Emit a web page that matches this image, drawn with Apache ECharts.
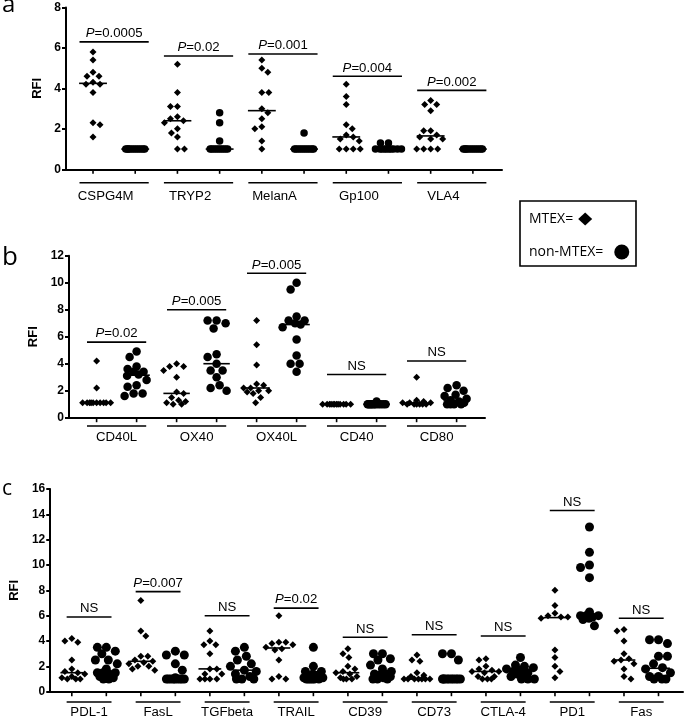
<!DOCTYPE html>
<html>
<head>
<meta charset="utf-8">
<script src="https://cdn.jsdelivr.net/npm/echarts@6/dist/echarts.min.js"></script>
<style>
html,body{margin:0;padding:0;background:#fff;}
#chart{width:685px;height:717px;}
</style>
</head>
<body>
<div id="chart"></div>
<script>
// ---------------- DATA ----------------
const catsA = ['CSPG4M', 'TRYP2', 'MelanA', 'Gp100', 'VLA4'];
const mtexA = [
  [5.8, 5.4, 4.8, 4.6, 4.6, 4.3, 4.2, 4.2, 3.8, 2.3, 2.2, 1.6],
  [5.2, 3.8, 3.1, 3.1, 2.6, 2.5, 2.4, 2.3, 2.0, 1.8, 1.6, 1.0, 1.0],
  [5.4, 5.0, 4.8, 3.8, 3.8, 3.0, 2.8, 2.5, 2.1, 2.0, 1.4, 1.0],
  [4.2, 3.6, 3.2, 2.2, 2.0, 1.7, 1.6, 1.5, 1.4, 1.0, 1.0, 1.0, 1.0],
  [3.4, 3.2, 3.2, 2.9, 1.9, 1.9, 1.7, 1.6, 1.5, 1.5, 1.0, 1.0, 1.0, 1.0]
];
const nonA = [
  [1.0, 1.0, 1.0, 1.0, 1.0, 1.0, 1.0, 1.0, 1.0, 1.0, 1.0, 1.0],
  [2.8, 2.3, 1.4, 1.0, 1.0, 1.0, 1.0, 1.0, 1.0, 1.0, 1.0, 1.0, 1.0],
  [1.8, 1.0, 1.0, 1.0, 1.0, 1.0, 1.0, 1.0, 1.0, 1.0, 1.0, 1.0],
  [1.3, 1.3, 1.0, 1.0, 1.0, 1.0, 1.0, 1.0, 1.0, 1.0, 1.0, 1.0],
  [1.0, 1.0, 1.0, 1.0, 1.0, 1.0, 1.0, 1.0, 1.0, 1.0, 1.0, 1.0]
];
const pBarA = [6.3, 5.6, 5.7, 4.6, 3.9];
const pTextA = ['0.0005', '0.02', '0.001', '0.004', '0.002'];
const yTicksA = [0, 2, 4, 6, 8];

const catsB = ['CD40L', 'OX40', 'OX40L', 'CD40', 'CD80'];
const mtexB = [
  [4.2, 2.2, 1.1, 1.1, 1.1, 1.1, 1.1, 1.1, 1.1, 1.1, 1.1, 1.1],
  [4.0, 3.8, 3.8, 3.5, 3.0, 1.9, 1.8, 1.5, 1.3, 1.2, 1.1, 1.0, 1.0],
  [7.2, 5.4, 3.9, 2.5, 2.4, 2.2, 2.2, 2.0, 2.0, 1.9, 1.8, 1.5, 1.1],
  [1.0, 1.0, 1.0, 1.0, 1.0, 1.0, 1.0, 1.0, 1.0, 1.0, 1.0, 1.0],
  [3.0, 1.3, 1.2, 1.1, 1.1, 1.1, 1.0, 1.0, 1.0, 1.0, 1.0, 1.0]
];
const nonB = [
  [4.9, 4.5, 3.8, 3.6, 3.4, 3.4, 3.2, 3.1, 2.8, 2.4, 2.3, 1.8, 1.8, 1.6],
  [7.2, 7.2, 7.0, 6.6, 4.7, 4.5, 4.0, 3.5, 3.5, 3.0, 2.4, 2.2, 2.0],
  [10.0, 9.5, 7.5, 7.2, 7.2, 7.0, 6.9, 6.7, 5.8, 4.6, 4.0, 4.0, 3.4],
  [1.2, 1.0, 1.0, 1.0, 1.0, 1.0, 1.0, 1.0, 1.0, 1.0, 1.0, 1.0],
  [2.4, 2.2, 2.0, 1.7, 1.6, 1.4, 1.3, 1.2, 1.1, 1.0, 1.0, 1.0, 1.0]
];
const pBarB = [5.6, 8.0, 10.7, 3.2, 4.2];
const pTextB = ['0.02', '0.005', '0.005', 'NS', 'NS'];
const yTicksB = [0, 2, 4, 6, 8, 10, 12];

const catsC = ['PDL-1', 'FasL', 'TGFbeta', 'TRAIL', 'CD39', 'CD73', 'CTLA-4', 'PD1', 'Fas'];
const mtexC = [
  [4.2, 4.0, 3.9, 2.5, 1.8, 1.6, 1.5, 1.4, 1.2, 1.1, 1.0, 1.0, 1.0],
  [7.2, 4.8, 4.4, 2.8, 2.8, 2.5, 2.4, 2.3, 2.2, 2.0, 2.0, 1.8, 1.7],
  [4.8, 4.0, 3.7, 3.7, 3.0, 1.8, 1.8, 1.4, 1.4, 1.0, 1.0, 1.0, 1.0],
  [6.0, 3.9, 3.9, 3.8, 3.7, 3.5, 3.4, 3.3, 2.5, 1.2, 1.0, 1.0],
  [3.4, 3.0, 2.7, 2.0, 1.8, 1.6, 1.5, 1.4, 1.2, 1.1, 1.0, 1.0, 1.0],
  [2.9, 2.5, 2.4, 1.5, 1.3, 1.2, 1.0, 1.0, 1.0, 1.0, 1.0, 1.0, 1.0],
  [2.6, 2.5, 2.0, 1.8, 1.7, 1.6, 1.6, 1.5, 1.2, 1.2, 1.0, 1.0, 1.0],
  [8.0, 6.8, 6.2, 6.0, 5.9, 5.9, 5.8, 3.3, 2.7, 2.0, 1.6, 1.1],
  [4.9, 4.8, 4.0, 3.0, 2.6, 2.5, 2.4, 2.2, 1.8, 1.2, 1.0]
];
const nonC = [
  [3.5, 3.5, 3.2, 3.0, 2.5, 2.5, 2.2, 1.8, 1.5, 1.5, 1.5, 1.4, 1.3, 1.2, 1.1, 1.0, 1.0],
  [3.2, 2.9, 2.9, 2.2, 1.7, 1.1, 1.0, 1.0, 1.0, 1.0, 1.0, 1.0, 1.0, 1.0, 1.0],
  [3.5, 3.2, 2.8, 2.5, 2.2, 2.0, 1.7, 1.6, 1.4, 1.2, 1.0, 1.0, 1.0],
  [3.5, 2.0, 1.6, 1.6, 1.4, 1.3, 1.2, 1.1, 1.1, 1.0, 1.0, 1.0, 1.0, 1.0, 1.0],
  [3.0, 3.0, 2.6, 2.5, 2.1, 1.8, 1.6, 1.4, 1.4, 1.3, 1.2, 1.1, 1.0, 1.0, 1.0],
  [3.0, 3.0, 2.5, 1.0, 1.0, 1.0, 1.0, 1.0, 1.0, 1.0, 1.0, 1.0, 1.0],
  [2.7, 2.1, 2.0, 1.9, 1.8, 1.7, 1.6, 1.5, 1.5, 1.4, 1.2, 1.0, 1.0, 1.0],
  [13.0, 11.0, 10.0, 9.8, 9.0, 6.3, 6.0, 6.0, 6.0, 5.9, 5.8, 5.7, 5.2],
  [4.1, 4.1, 3.8, 2.8, 2.8, 2.2, 1.9, 1.8, 1.5, 1.2, 1.2, 1.0, 1.0, 1.0]
];
const pBarC = [5.9, 7.9, 6.0, 6.6, 4.3, 4.5, 4.4, 14.3, 5.8];
const pTextC = ['NS', '0.007', 'NS', '0.02', 'NS', 'NS', 'NS', 'NS', 'NS'];
const yTicksC = [0, 2, 4, 6, 8, 10, 12, 14, 16];

// ---------------- LAYOUT / STYLE ----------------
const FONT = '"Liberation Sans", Arial, Helvetica, sans-serif';
const SANS = '"Open Sans", "Noto Sans", sans-serif';
const panels = [
  { cats: catsA, mtex: mtexA, non: nonA, pBar: pBarA, pText: pTextA, yTicks: yTicksA,
    grid: { left: 66, top: 7.5, width: 436, height: 161.8 }, xMin: 0.36, xMax: 10.69,
    barHalf: 0.82, lineOff: 13.4, labelOff: 27.5, labelShift: -0.2, dia: 7, cir: 7.5, nameGap: 17 },
  { cats: catsB, mtex: mtexB, non: nonB, pBar: pBarB, pText: pTextB, yTicks: yTicksB,
    grid: { left: 69, top: 255.7, width: 416, height: 162 }, xMin: 0.31, xMax: 10.71,
    barHalf: 0.74, lineOff: 8.3, labelOff: 19.6, labelShift: 0, dia: 7, cir: 8.5, nameGap: 20 },
  { cats: catsC, mtex: mtexC, non: nonC, pBar: pBarC, pText: pTextC, yTicks: yTicksC,
    grid: { left: 46.7, top: 489, width: 636.3, height: 202.7 }, xMin: 0.375, xMax: 18.71,
    barHalf: 0.65, lineOff: 10.3, labelOff: 20.5, labelShift: 0, dia: 7, cir: 9, nameGap: 24 }
];

function median(arr) {
  const s = arr.slice().sort((a, b) => a - b);
  const n = s.length;
  return n % 2 ? s[(n - 1) / 2] : (s[n / 2 - 1] + s[n / 2]) / 2;
}

// deterministic beeswarm: spreads equal / close values sideways
function swarm(values, center, xs, ys, d, maxFree, maxFill) {
  const order = values.map((v, i) => i).sort((a, b) => values[b] - values[a]);
  const placed = [];
  const out = [];
  let flip = 1;
  for (const i of order) {
    const py = values[i] * ys;
    let chosen = null;
    for (let k = 0; k <= maxFree && chosen === null; k += 1) {
      const cands = k === 0 ? [0] : [flip * k, -flip * k];
      for (const ox of cands) {
        if (placed.every(p => Math.hypot(p.ox - ox, p.py - py) >= d)) { chosen = ox; break; }
      }
    }
    if (chosen === null) {
      let best = 0, bestD = -1;
      for (let ox = -maxFill; ox <= maxFill + 1e-9; ox += 0.5) {
        let md = Infinity;
        placed.forEach(p => { md = Math.min(md, Math.hypot(p.ox - ox, p.py - py)); });
        if (md > bestD + 1e-9) { bestD = md; best = ox; }
      }
      chosen = best;
    }
    flip = -flip;
    placed.push({ ox: chosen, py: py });
    out.push([center + chosen / xs, values[i]]);
  }
  return out;
}

const grids = [], xAxes = [], yAxes = [], series = [];

panels.forEach((P, k) => {
  const n = P.cats.length;
  const yMax = P.yTicks[P.yTicks.length - 1];
  const xs = P.grid.width / (P.xMax - P.xMin);
  const ys = P.grid.height / yMax;
  grids.push(P.grid);
  xAxes.push({
    gridIndex: k, type: 'value', min: P.xMin, max: P.xMax,
    axisLine: { show: true, onZero: false, lineStyle: { color: '#000', width: 2 } },
    axisTick: { show: false },
    axisLabel: { show: false }, splitLine: { show: false }
  });
  yAxes.push({
    gridIndex: k, type: 'value', min: P.yTicks[0], max: yMax,
    interval: P.yTicks[1] - P.yTicks[0],
    name: 'RFI', nameLocation: 'middle', nameRotate: 90, nameGap: P.nameGap,
    nameTextStyle: { fontFamily: FONT, fontWeight: 'bold', fontSize: 13, color: '#000' },
    axisLine: { show: true, lineStyle: { color: '#000', width: 2 } },
    axisTick: { show: true, length: 4, lineStyle: { color: '#000', width: 2 } },
    axisLabel: { fontFamily: FONT, fontWeight: 'bold', fontSize: 12, color: '#000', margin: 5 },
    splitLine: { show: false }
  });

  const mData = [], nData = [], medData = [];
  P.mtex.forEach((vals, i) => {
    swarm(vals, 2 * i + 1, xs, ys, P.dia, 14, 9.5).forEach(p => mData.push(p));
    medData.push([2 * i + 1, median(vals)]);
  });
  P.non.forEach((vals, i) => {
    swarm(vals, 2 * i + 2, xs, ys, P.cir, 14, 9.5).forEach(p => nData.push(p));
    medData.push([2 * i + 2, median(vals)]);
  });

  series.push({
    type: 'scatter', name: 'MTEX=', xAxisIndex: k, yAxisIndex: k,
    symbol: 'diamond', symbolSize: P.dia, itemStyle: { color: '#000', opacity: 1 },
    data: mData, z: 3
  });
  series.push({
    type: 'scatter', name: 'non-MTEX=', xAxisIndex: k, yAxisIndex: k,
    symbol: 'circle', symbolSize: P.cir, itemStyle: { color: '#000', opacity: 1 },
    data: nData, z: 3
  });
  // medians
  series.push({
    type: 'custom', xAxisIndex: k, yAxisIndex: k, clip: false, z: 5, silent: true,
    data: medData,
    renderItem: function (params, api) {
      const a = api.coord([api.value(0) - 0.33, api.value(1)]);
      const b = api.coord([api.value(0) + 0.33, api.value(1)]);
      return { type: 'line', shape: { x1: a[0], y1: a[1], x2: b[0], y2: b[1] },
               style: { stroke: '#000', lineWidth: 1.6 } };
    }
  });
  // x ticks, significance bars, group lines and category labels
  series.push({
    type: 'custom', xAxisIndex: k, yAxisIndex: k, clip: false, z: 5, silent: true,
    data: P.cats.map((c, i) => [2 * i + 1.5, P.pBar[i]]),
    renderItem: function (params, api) {
      const i = params.dataIndex;
      const mid = api.value(0);
      const l = api.coord([mid - P.barHalf, api.value(1)]);
      const r = api.coord([mid + P.barHalf, api.value(1)]);
      const l0 = api.coord([mid - P.barHalf, 0]);
      const r0 = api.coord([mid + P.barHalf, 0]);
      const lab = api.coord([mid + P.labelShift, 0]);
      const t1 = api.coord([mid - 0.5, 0]);
      const t2 = api.coord([mid + 0.5, 0]);
      const t = P.pText[i];
      const txt = t === 'NS' ? 'NS' : '{i|P}=' + t;
      return {
        type: 'group',
        children: [
          { type: 'line', shape: { x1: t1[0], y1: t1[1], x2: t1[0], y2: t1[1] + 4.5 },
            style: { stroke: '#000', lineWidth: 1.6 } },
          { type: 'line', shape: { x1: t2[0], y1: t2[1], x2: t2[0], y2: t2[1] + 4.5 },
            style: { stroke: '#000', lineWidth: 1.6 } },
          { type: 'line', shape: { x1: l[0], y1: l[1], x2: r[0], y2: r[1] },
            style: { stroke: '#000', lineWidth: 1.6 } },
          { type: 'text', x: (l[0] + r[0]) / 2, y: l[1] - 2, scaleX: 1.1,
            style: { text: txt, fill: '#000', fontSize: 12, fontFamily: FONT,
                     align: 'center', verticalAlign: 'bottom',
                     rich: { i: { fontStyle: 'italic', fontSize: 12, fontFamily: FONT, fill: '#000' } } } },
          { type: 'line', shape: { x1: l0[0], y1: l0[1] + P.lineOff, x2: r0[0], y2: r0[1] + P.lineOff },
            style: { stroke: '#000', lineWidth: 1.6 } },
          { type: 'text', x: lab[0], y: lab[1] + P.labelOff, scaleX: 1.1,
            style: { text: P.cats[i], fill: '#000', fontSize: 12, fontFamily: FONT,
                     align: 'center', verticalAlign: 'middle' } }
        ]
      };
    }
  });
});

const legendText = { fontFamily: SANS, fontSize: 14, color: '#000' };
const chart = echarts.init(document.getElementById('chart'), null, { renderer: 'canvas' });
chart.setOption({
  animation: false,
  backgroundColor: '#fff',
  grid: grids,
  xAxis: xAxes,
  yAxis: yAxes,
  series: series,
  legend: [
    { data: ['MTEX='], orient: 'horizontal', left: 529, top: 212, align: 'right',
      itemWidth: 14, itemHeight: 13, padding: 0, selectedMode: false,
      textStyle: legendText },
    { data: ['non-MTEX='], orient: 'horizontal', left: 529, top: 244.5, align: 'right',
      itemWidth: 15, itemHeight: 15, padding: 0, selectedMode: false,
      textStyle: Object.assign({ padding: [0, 6, 0, 0] }, legendText) }
  ],
  graphic: [
    { type: 'rect', shape: { x: 520, y: 201, width: 116, height: 65 }, z: -1,
      style: { fill: '#fff', stroke: '#000', lineWidth: 1.6 } },
    { type: 'text', left: 2, top: -7, style: { text: 'a', font: '24px ' + SANS, fill: '#000' } },
    { type: 'text', left: 2, top: 245, style: { text: 'b', font: '26px ' + SANS, fill: '#000' } },
    { type: 'text', left: 2, top: 479, style: { text: 'c', font: '21px ' + SANS, fill: '#000' } }
  ]
});
</script>
</body>
</html>
